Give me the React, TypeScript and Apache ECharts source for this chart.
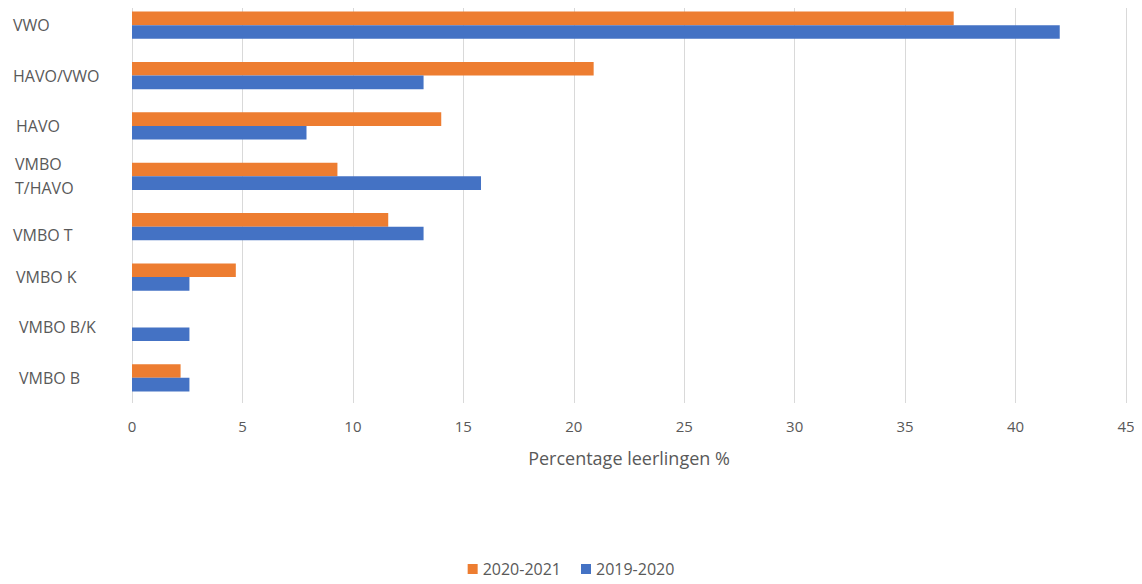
import React, { useEffect, useRef } from "react";
import * as echarts from "echarts";

const categories = ["VMBO B", "VMBO B/K", "VMBO K", "VMBO T", "VMBO\nT/HAVO", "HAVO", "HAVO/VWO", "VWO"];
const series2020_2021 = [2.2, 0, 4.7, 11.6, 9.3, 14.0, 20.9, 37.2];
const series2019_2020 = [2.6, 2.6, 2.6, 13.2, 15.8, 7.9, 13.2, 42.0];
const xTicks = { min: 0, max: 45, interval: 5 };
const seriesNames = ["2020-2021", "2019-2020"];

const FONT = "'Open Sans', 'Noto Sans', sans-serif";
const GRAY = "#595959";

// per-label [topPad, leftPad] to mimic the original label placement
const labelPads: number[][] = [
  [0, 6],
  [0, 6],
  [0, 3],
  [16, 0],
  [0, 2],
  [0, 3],
  [0, 0],
  [0, 0],
];

export default function App() {
  const ref = useRef<HTMLDivElement>(null);
  useEffect(() => {
    if (!ref.current) return;
    const chart = echarts.init(ref.current, null, { renderer: "svg" });
    const rich: Record<string, any> = {};
    labelPads.forEach((p, i) => {
      rich["a" + i] = { color: GRAY, fontSize: 16, fontFamily: FONT, lineHeight: 24, padding: [p[0], 0, 0, p[1]] };
    });
    chart.setOption({
      animation: false,
      textStyle: { fontFamily: FONT },
      grid: { left: 124, right: 8, top: -8, height: 403, outerBoundsMode: "none", containLabel: false },
      legend: {
        data: seriesNames,
        bottom: 2,
        left: "center",
        itemWidth: 10,
        itemHeight: 10,
        itemGap: 20,
        icon: "rect",
        textStyle: { color: GRAY, fontSize: 16, fontFamily: FONT },
      },
      xAxis: {
        type: "value",
        min: xTicks.min,
        max: xTicks.max,
        interval: xTicks.interval,
        axisLine: { show: false },
        axisTick: { show: false },
        splitLine: { lineStyle: { color: "#D9D9D9", width: 1 } },
        axisLabel: { color: GRAY, fontSize: 15, margin: 15, fontFamily: FONT },
        name: "Percentage leerlingen %",
        nameLocation: "middle",
        nameGap: 46,
        nameTextStyle: { color: GRAY, fontSize: 18, fontFamily: FONT },
      },
      yAxis: {
        type: "category",
        data: categories,
        axisLine: { show: false },
        axisTick: { show: false },
        axisLabel: {
          color: GRAY,
          fontSize: 16,
          align: "left",
          margin: 119,
          lineHeight: 24,
          fontFamily: FONT,
          formatter: (v: string, i: number) =>
            v
              .split("\n")
              .map((line) => `{a${i}|${line}}`)
              .join("\n"),
          rich,
        },
      },
      series: [
        {
          name: seriesNames[0],
          type: "bar",
          data: series2020_2021,
          itemStyle: { color: "#ED7D31" },
          barGap: "0%",
          barCategoryGap: "46%",
        },
        {
          name: seriesNames[1],
          type: "bar",
          data: series2019_2020,
          itemStyle: { color: "#4472C4" },
          barGap: "0%",
          barCategoryGap: "46%",
        },
      ],
    });
    return () => chart.dispose();
  }, []);
  return <div ref={ref} style={{ width: 1126, height: 576 }} />;
}
